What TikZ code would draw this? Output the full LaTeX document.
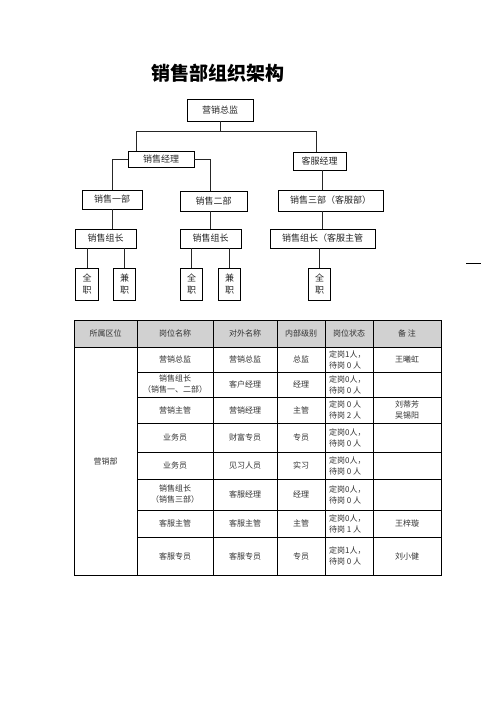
\documentclass[tikz,border=0pt]{standalone}
\usepackage{fontspec}
\setmainfont{Noto Sans CJK SC}
\begin{document}
\begin{tikzpicture}[x=1pt,y=-1pt,
  orgbox/.style={draw=black,line width=0.8pt,inner sep=0pt,text=black!85,
     font=\fontsize{9}{12}\selectfont,align=center},
  leafbox/.style={orgbox,minimum width=22.5pt,minimum height=32pt},
  link/.style={draw=black!85,line width=0.8pt},
  cell/.style={inner sep=0pt,text=black!80,font=\fontsize{8}{11}\selectfont,align=center},
  statecell/.style={cell,align=left},
  grid/.style={draw=black,line width=0.8pt}]
\useasboundingbox (0,0) rectangle (496,702);

% title
\node[font=\fontsize{19}{22}\selectfont\bfseries,inner sep=0pt] (title) at (217.5,73) {销售部组织架构};

% org chart
\node[orgbox,minimum width=66pt,minimum height=22pt] (ceo) at (220,110) {营销总监};
\node[orgbox,minimum width=66pt,minimum height=16pt] (sm) at (161,159) {销售经理};
\node[orgbox,minimum width=53pt,minimum height=18pt] (cs) at (319.5,161) {客服经理};
\node[orgbox,minimum width=60pt,minimum height=19pt] (d1) at (112,199.5) {销售一部};
\node[orgbox,minimum width=67pt,minimum height=20pt] (d2) at (213.5,201) {销售二部};
\node[orgbox,minimum width=105pt,minimum height=21pt] (d3) at (330.5,200.5) {销售三部（客服部）};
\node[orgbox,minimum width=61pt,minimum height=19pt] (g1) at (105.5,238.5) {销售组长};
\node[orgbox,minimum width=61pt,minimum height=19pt] (g2) at (210.5,238.5) {销售组长};
\node[orgbox,minimum width=105pt,minimum height=19pt] (g3) at (322.5,238.5) {销售组长（客服主管};
\node[leafbox] (f1) at (87,284) {全\\职};
\node[leafbox] (j1) at (124.5,284) {兼\\职};
\node[leafbox] (f2) at (191.5,284) {全\\职};
\node[leafbox] (j2) at (229.5,284) {兼\\职};
\node[leafbox] (f3) at (319.5,284) {全\\职};

\coordinate (bus) at (0,131);
\coordinate (smtap) at ([xshift=-25pt]sm.north);
\coordinate (cstap) at ([xshift=-3.5pt]cs.north);
\draw[link] (ceo.south) -- (ceo.south |- bus);
\draw[link] (smtap) |- (cstap |- bus) -- (cstap);
\draw[link] (sm.west) -| (d1.north);
\draw[link] (sm.east) -| (g2.north |- d2.north);
\draw[link] (g3.north |- cs.south) -- (g3.north |- d3.north);
\draw[link] (d1.south) -- (d1.south |- g1.north);
\draw[link] (g2.north |- d2.south) -- (g2.north);
\draw[link] (g3.north |- d3.south) -- (g3.north);
\draw[link] (f1.north |- g1.south) -- (f1.north);
\draw[link] (j1.north |- g1.south) -- (j1.north);
\draw[link] (f2.north |- g2.south) -- (f2.north);
\draw[link] (j2.north |- g2.south) -- (j2.north);
\draw[link] (f3.north |- g3.south) -- (f3.north);

% stray mark at right
\coordinate (m1) at (466,263);
\coordinate (m2) at (481,263);
\draw[line width=0.8pt] (m1) -- (m2);

% table
\fill[black!18] (74,320) rectangle (441,347);
\draw[grid] (74,320) rectangle (441,575);
\draw[grid] (74,347) -- (441,347);
\foreach \x in {137,213,277,325,373} \draw[grid] (\x,320) -- (\x,575);
\foreach \y in {372,397,423,452,479,510,537} \draw[grid] (137,\y) -- (441,\y);

% header
\foreach \t/\x [count=\i] in {所属区位/105.5,岗位名称/175,对外名称/245,内部级别/301,岗位状态/349,备\ 注/407}
  \node[cell] (h\i) at (\x,333.5) {\t};

\node[cell] (dept) at (105.5,461) {营销部};

\foreach \a/\b/\c/\d/\e/\y [count=\i] in {
  营销总监/营销总监/总监/定岗1人，\\待岗 0 人/王曦虹/359.5,
  销售组长\\（销售一、二部）/客户经理/经理/定岗0人，\\待岗 0 人//384.5,
  营销主管/营销经理/主管/定岗 0 人\\待岗 2 人/刘蒂芳\\吴锡阳/410,
  业务员/财富专员/专员/定岗0人，\\待岗 0 人//437.5,
  业务员/见习人员/实习/定岗0人，\\待岗 0 人//465.5,
  销售组长\\（销售三部）/客服经理/经理/定岗0人，\\待岗 0 人//494.5,
  客服主管/客服主管/主管/定岗0人，\\待岗 1 人/王梓璇/523.5,
  客服专员/客服专员/专员/定岗1人，\\待岗 0 人/刘小健/556}{
  \node[cell] (r\i a) at (175,\y) {\a};
  \node[cell] (r\i b) at (245,\y) {\b};
  \node[cell] (r\i c) at (301,\y) {\c};
  \node[statecell,anchor=west] (r\i d) at (329,\y) {\d};
  \node[cell] (r\i e) at (407,\y) {\e};
}
\end{tikzpicture}
\end{document}
